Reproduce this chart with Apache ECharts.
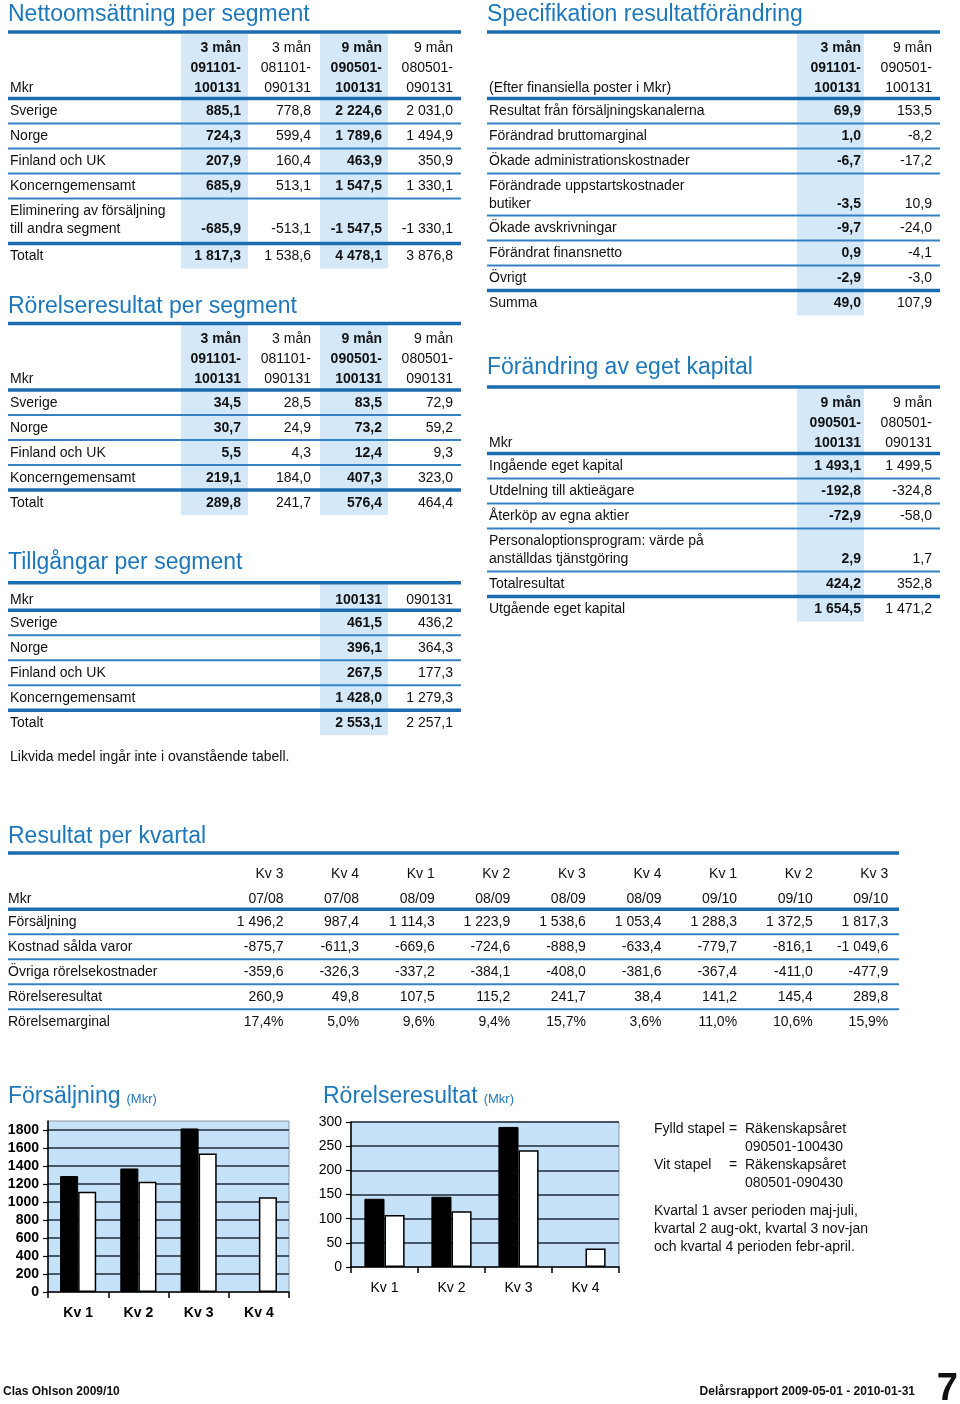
<!DOCTYPE html>
<html><head><meta charset="utf-8">
<script src="https://cdn.jsdelivr.net/npm/echarts@6.0.0/dist/echarts.min.js"></script>
<style>html,body{margin:0;padding:0;background:#fff}#c{width:960px;height:1404px}</style>
</head><body><div id="c"></div>
<script>
// ---------------- DATA ----------------
// Nettoomsättning per segment
const netHeads = [['3 mån','091101-','100131'],['3 mån','081101-','090131'],['9 mån','090501-','100131'],['9 mån','080501-','090131']];
const netLabels = [['Sverige'],['Norge'],['Finland och UK'],['Koncerngemensamt'],['Eliminering av försäljning','till andra segment'],['Totalt']];
const netQ3_0910 = ['885,1','724,3','207,9','685,9','-685,9','1 817,3'];
const netQ3_0809 = ['778,8','599,4','160,4','513,1','-513,1','1 538,6'];
const net9m_0910 = ['2 224,6','1 789,6','463,9','1 547,5','-1 547,5','4 478,1'];
const net9m_0809 = ['2 031,0','1 494,9','350,9','1 330,1','-1 330,1','3 876,8'];

// Rörelseresultat per segment
const segLabels = [['Sverige'],['Norge'],['Finland och UK'],['Koncerngemensamt'],['Totalt']];
const ebitQ3_0910 = ['34,5','30,7','5,5','219,1','289,8'];
const ebitQ3_0809 = ['28,5','24,9','4,3','184,0','241,7'];
const ebit9m_0910 = ['83,5','73,2','12,4','407,3','576,4'];
const ebit9m_0809 = ['72,9','59,2','9,3','323,0','464,4'];

// Tillgångar per segment
const assetHeads = [['100131'],['090131']];
const assets100131 = ['461,5','396,1','267,5','1 428,0','2 553,1'];
const assets090131 = ['436,2','364,3','177,3','1 279,3','2 257,1'];
const assetNote = 'Likvida medel ingår inte i ovanstående tabell.';

// Specifikation resultatförändring
const specHeads = [['3 mån','091101-','100131'],['9 mån','090501-','100131']];
const specLabels = [['Resultat från försäljningskanalerna'],['Förändrad bruttomarginal'],['Ökade administrationskostnader'],['Förändrade uppstartskostnader','butiker'],['Ökade avskrivningar'],['Förändrat finansnetto'],['Övrigt'],['Summa']];
const specQ3 = ['69,9','1,0','-6,7','-3,5','-9,7','0,9','-2,9','49,0'];
const spec9m = ['153,5','-8,2','-17,2','10,9','-24,0','-4,1','-3,0','107,9'];

// Förändring av eget kapital
const eqHeads = [['9 mån','090501-','100131'],['9 mån','080501-','090131']];
const eqLabels = [['Ingående eget kapital'],['Utdelning till aktieägare'],['Återköp av egna aktier'],['Personaloptionsprogram: värde på','anställdas tjänstgöring'],['Totalresultat'],['Utgående eget kapital']];
const eq0910 = ['1 493,1','-192,8','-72,9','2,9','424,2','1 654,5'];
const eq0809 = ['1 499,5','-324,8','-58,0','1,7','352,8','1 471,2'];

// Resultat per kvartal
const qHead1 = ['Kv 3','Kv 4','Kv 1','Kv 2','Kv 3','Kv 4','Kv 1','Kv 2','Kv 3'];
const qHead2 = ['07/08','07/08','08/09','08/09','08/09','08/09','09/10','09/10','09/10'];
const qLabels = [['Försäljning'],['Kostnad sålda varor'],['Övriga rörelsekostnader'],['Rörelseresultat'],['Rörelsemarginal']];
const qSales  = ['1 496,2','987,4','1 114,3','1 223,9','1 538,6','1 053,4','1 288,3','1 372,5','1 817,3'];
const qCogs   = ['-875,7','-611,3','-669,6','-724,6','-888,9','-633,4','-779,7','-816,1','-1 049,6'];
const qOpex   = ['-359,6','-326,3','-337,2','-384,1','-408,0','-381,6','-367,4','-411,0','-477,9'];
const qEbit   = ['260,9','49,8','107,5','115,2','241,7','38,4','141,2','145,4','289,8'];
const qMargin = ['17,4%','5,0%','9,6%','9,4%','15,7%','3,6%','11,0%','10,6%','15,9%'];

// Bar charts
const quarters = ['Kv 1','Kv 2','Kv 3','Kv 4'];
const sales0910 = [1288.3, 1372.5, 1817.3, null];
const sales0809 = [1114.3, 1223.9, 1538.6, 1053.4];
const ebit0910 = [141.2, 145.4, 289.8, null];
const ebit0809 = [107.5, 115.2, 241.7, 38.4];
const salesTicks = {min:0, max:1900, interval:200};
const ebitTicks = {min:0, max:300, interval:50};

const legendLeft = ['Fylld stapel','Vit stapel'];
const legendRight = [['Räkenskapsåret','090501-100430'],['Räkenskapsåret','080501-090430']];
const noteLines = ['Kvartal 1 avser perioden maj-juli,','kvartal 2 aug-okt, kvartal 3 nov-jan','och kvartal 4 perioden febr-april.'];

// ---------------- DRAWING ----------------
const FONT = '"Liberation Sans", Arial, Helvetica, sans-serif';
const TITLE_BLUE = '#1d78bb';
const THICK = '#1c6cb0';
const THIN = '#3482c4';
const SHADE = '#d4e8f8';
const INK = '#111';
const DY = 1; // small baseline correction for text

const els = [];
function text(x, y, s, o) {
  o = o || {};
  els.push({type:'text', x:x, y:y + DY, z:10, silent:true, style:{
    text:s, font:(o.bold?'bold ':'') + (o.size||14) + 'px ' + (o.family||FONT),
    fill:o.color||INK, textAlign:o.align||'left', textVerticalAlign:'middle'}});
}
function hline(x1, x2, y, w, c) {
  els.push({type:'line', z:5, silent:true, shape:{x1:x1, y1:y, x2:x2, y2:y}, style:{stroke:c, lineWidth:w}});
}
function rect(x, y, w, h, c) {
  els.push({type:'rect', z:1, silent:true, shape:{x:x, y:y, width:w, height:h}, style:{fill:c}});
}
const mctx = document.createElement('canvas').getContext('2d');
function measure(s, size) { mctx.font = size + 'px ' + FONT; return mctx.measureText(s).width; }

function table(t) {
  let y = t.top + t.headH;
  const tops = [];
  t.labels.forEach(lab => { tops.push(y); y += lab.length > 1 ? t.twoH : 25; });
  const end = tops[tops.length - 1] + 25;
  (t.shade || []).forEach(s => { if (s) rect(s[0], t.top + 1.5, s[1] - s[0], end - t.top - 1.5, SHADE); });
  hline(t.left, t.right, t.top, 3.5, THICK);
  hline(t.left, t.right, t.top + t.headH, 3.5, THICK);
  for (let i = 1; i < t.labels.length; i++) {
    const th = (t.thickBefore || []).includes(i);
    hline(t.left, t.right, tops[i], th ? 3.5 : 2, th ? THICK : THIN);
  }
  const n = t.headOff.length;
  t.heads.forEach((col, c) => {
    col.forEach((s, k) => text(t.colRight[c], t.top + t.headOff[k + n - col.length], s, {align:'right', bold:t.bold[c]}));
  });
  text(t.labelX, t.top + t.headOff[n - 1], t.headLabel);
  t.labels.forEach((lab, i) => {
    lab.forEach((s, k) => text(t.labelX, tops[i] + 12 + k * 18, s));
    const vy = tops[i] + 12 + (lab.length - 1) * 18;
    t.cols.forEach((col, c) => text(t.colRight[c], vy, col[i], {align:'right', bold:t.bold[c]}));
  });
}
function title(x, y, s, sub) {
  text(x, y + 1, s, {size:23, color:TITLE_BLUE});
  if (sub) text(x + measure(s, 23) + 6, y + 3, sub, {size:13, color:TITLE_BLUE});
}

// Left column
title(8, 13, 'Nettoomsättning per segment');
table({left:8, right:461, top:32, labelX:10, headOff:[15,35,55], headH:66.5, heads:netHeads, headLabel:'Mkr',
  cols:[netQ3_0910, netQ3_0809, net9m_0910, net9m_0809], colRight:[241,311,382,453], bold:[true,false,true,false],
  shade:[[181,248],null,[320,388],null], labels:netLabels, thickBefore:[5], twoH:45});

title(8, 305, 'Rörelseresultat per segment');
table({left:8, right:461, top:323.5, labelX:10, headOff:[15,35,55], headH:66.5, heads:netHeads, headLabel:'Mkr',
  cols:[ebitQ3_0910, ebitQ3_0809, ebit9m_0910, ebit9m_0809], colRight:[241,311,382,453], bold:[true,false,true,false],
  shade:[[181,248],null,[320,388],null], labels:segLabels, thickBefore:[4], twoH:45});

title(8, 561, 'Tillgångar per segment');
table({left:8, right:461, top:582.7, labelX:10, headOff:[16.5], headH:27.5, heads:assetHeads, headLabel:'Mkr',
  cols:[assets100131, assets090131], colRight:[382,453], bold:[true,false],
  shade:[[320,388],null], labels:segLabels, thickBefore:[4], twoH:45});
text(10, 756, assetNote);

// Right column
title(487, 13, 'Specifikation resultatförändring');
table({left:487, right:940, top:32, labelX:489, headOff:[15,35,55], headH:66.5, heads:specHeads, headLabel:'(Efter finansiella poster i Mkr)',
  cols:[specQ3, spec9m], colRight:[861,932], bold:[true,false],
  shade:[[797,864],null], labels:specLabels, thickBefore:[7], twoH:42});

title(487, 366, 'Förändring av eget kapital');
table({left:487, right:940, top:387, labelX:489, headOff:[15,35,55], headH:66.5, heads:eqHeads, headLabel:'Mkr',
  cols:[eq0910, eq0809], colRight:[861,932], bold:[true,false],
  shade:[[797,864],null], labels:eqLabels, thickBefore:[5], twoH:43});

// Quarterly table
title(8, 835, 'Resultat per kvartal');
table({left:8, right:899, top:853, labelX:8, headOff:[20,45], headH:56.3,
  heads:qHead1.map((h, i) => [h, qHead2[i]]), headLabel:'Mkr',
  cols:[qSales, qCogs, qOpex, qEbit, qMargin].reduce((acc, row) => { row.forEach((v, c) => { (acc[c] = acc[c] || []).push(v); }); return acc; }, []),
  colRight:qHead1.map((_, i) => 283.5 + i * 75.6), bold:qHead1.map(() => false),
  shade:[], labels:qLabels, thickBefore:[], twoH:45});

// Chart titles
title(8, 1095, 'Försäljning', '(Mkr)');
title(323, 1095, 'Rörelseresultat', '(Mkr)');

// Legend text
legendLeft.forEach((s, i) => {
  const y = 1128 + i * 36;
  text(654, y, s);
  text(733, y, '=', {align:'center'});
  text(745, y, legendRight[i][0]);
  text(745, y + 18, legendRight[i][1]);
});
noteLines.forEach((s, i) => text(654, 1210 + i * 18, s));

// Footer
text(3, 1391, 'Clas Ohlson 2009/10', {bold:true, size:12});
text(915, 1391, 'Delårsrapport 2009-05-01 - 2010-01-31', {bold:true, size:12, align:'right'});
text(958, 1389, '7', {bold:true, size:38, align:'right', family:'"Liberation Sans Narrow", "Liberation Sans", Arial, sans-serif'});

// ---------------- CHART ----------------
const BG = '#c6e2f8';
function xAx(i, bold) {
  return {type:'category', gridIndex:i, data:quarters,
    axisLine:{show:true, lineStyle:{color:'#000', width:1.5}},
    axisTick:{show:true, length:6, lineStyle:{color:'#000', width:1.5}},
    axisLabel:{color:'#000', fontWeight:bold ? 'bold' : 'normal', fontSize:14, fontFamily:FONT, margin:14},
    splitLine:{show:false}};
}
function yAx(i, t, hideMax, bold) {
  return {type:'value', gridIndex:i, min:t.min, max:t.max, interval:t.interval,
    axisLine:{show:true, lineStyle:{color:'#000', width:1.5}},
    axisTick:{show:true, length:5, lineStyle:{color:'#000', width:1.2}},
    axisLabel:{color:'#000', fontWeight:bold ? 'bold' : 'normal', fontSize:14, fontFamily:FONT, margin:9,
      showMaxLabel:!hideMax, formatter:v => String(v)},
    splitLine:{show:true, showMaxLine:!hideMax, showMinLine:false, lineStyle:{color:'#1d2b3a', width:1.5}}};
}
function bars(xi, d1, d2) {
  return [
    {type:'bar', xAxisIndex:xi, yAxisIndex:xi, data:d1, barGap:'0%', barCategoryGap:'40%',
      itemStyle:{color:'#000', borderColor:'#000', borderWidth:1}},
    {type:'bar', xAxisIndex:xi, yAxisIndex:xi, data:d2, barGap:'0%', barCategoryGap:'40%',
      itemStyle:{color:'#fff', borderColor:'#000', borderWidth:1.5}}
  ];
}

const chart = echarts.init(document.getElementById('c'), null, {renderer:'canvas'});
chart.setOption({
  animation:false,
  backgroundColor:'#fff',
  grid:[
    {left:48, top:1121, width:241, height:171, show:true, backgroundColor:BG, borderColor:'#8e9ba6', borderWidth:1, containLabel:false},
    {left:351, top:1122, width:268, height:145, show:true, backgroundColor:BG, borderColor:'#8e9ba6', borderWidth:1, containLabel:false}
  ],
  xAxis:[xAx(0, true), xAx(1, false)],
  yAxis:[yAx(0, salesTicks, true, true), yAx(1, ebitTicks, false, false)],
  series:[].concat(bars(0, sales0910, sales0809), bars(1, ebit0910, ebit0809)),
  graphic:{elements:els}
});
</script></body></html>
